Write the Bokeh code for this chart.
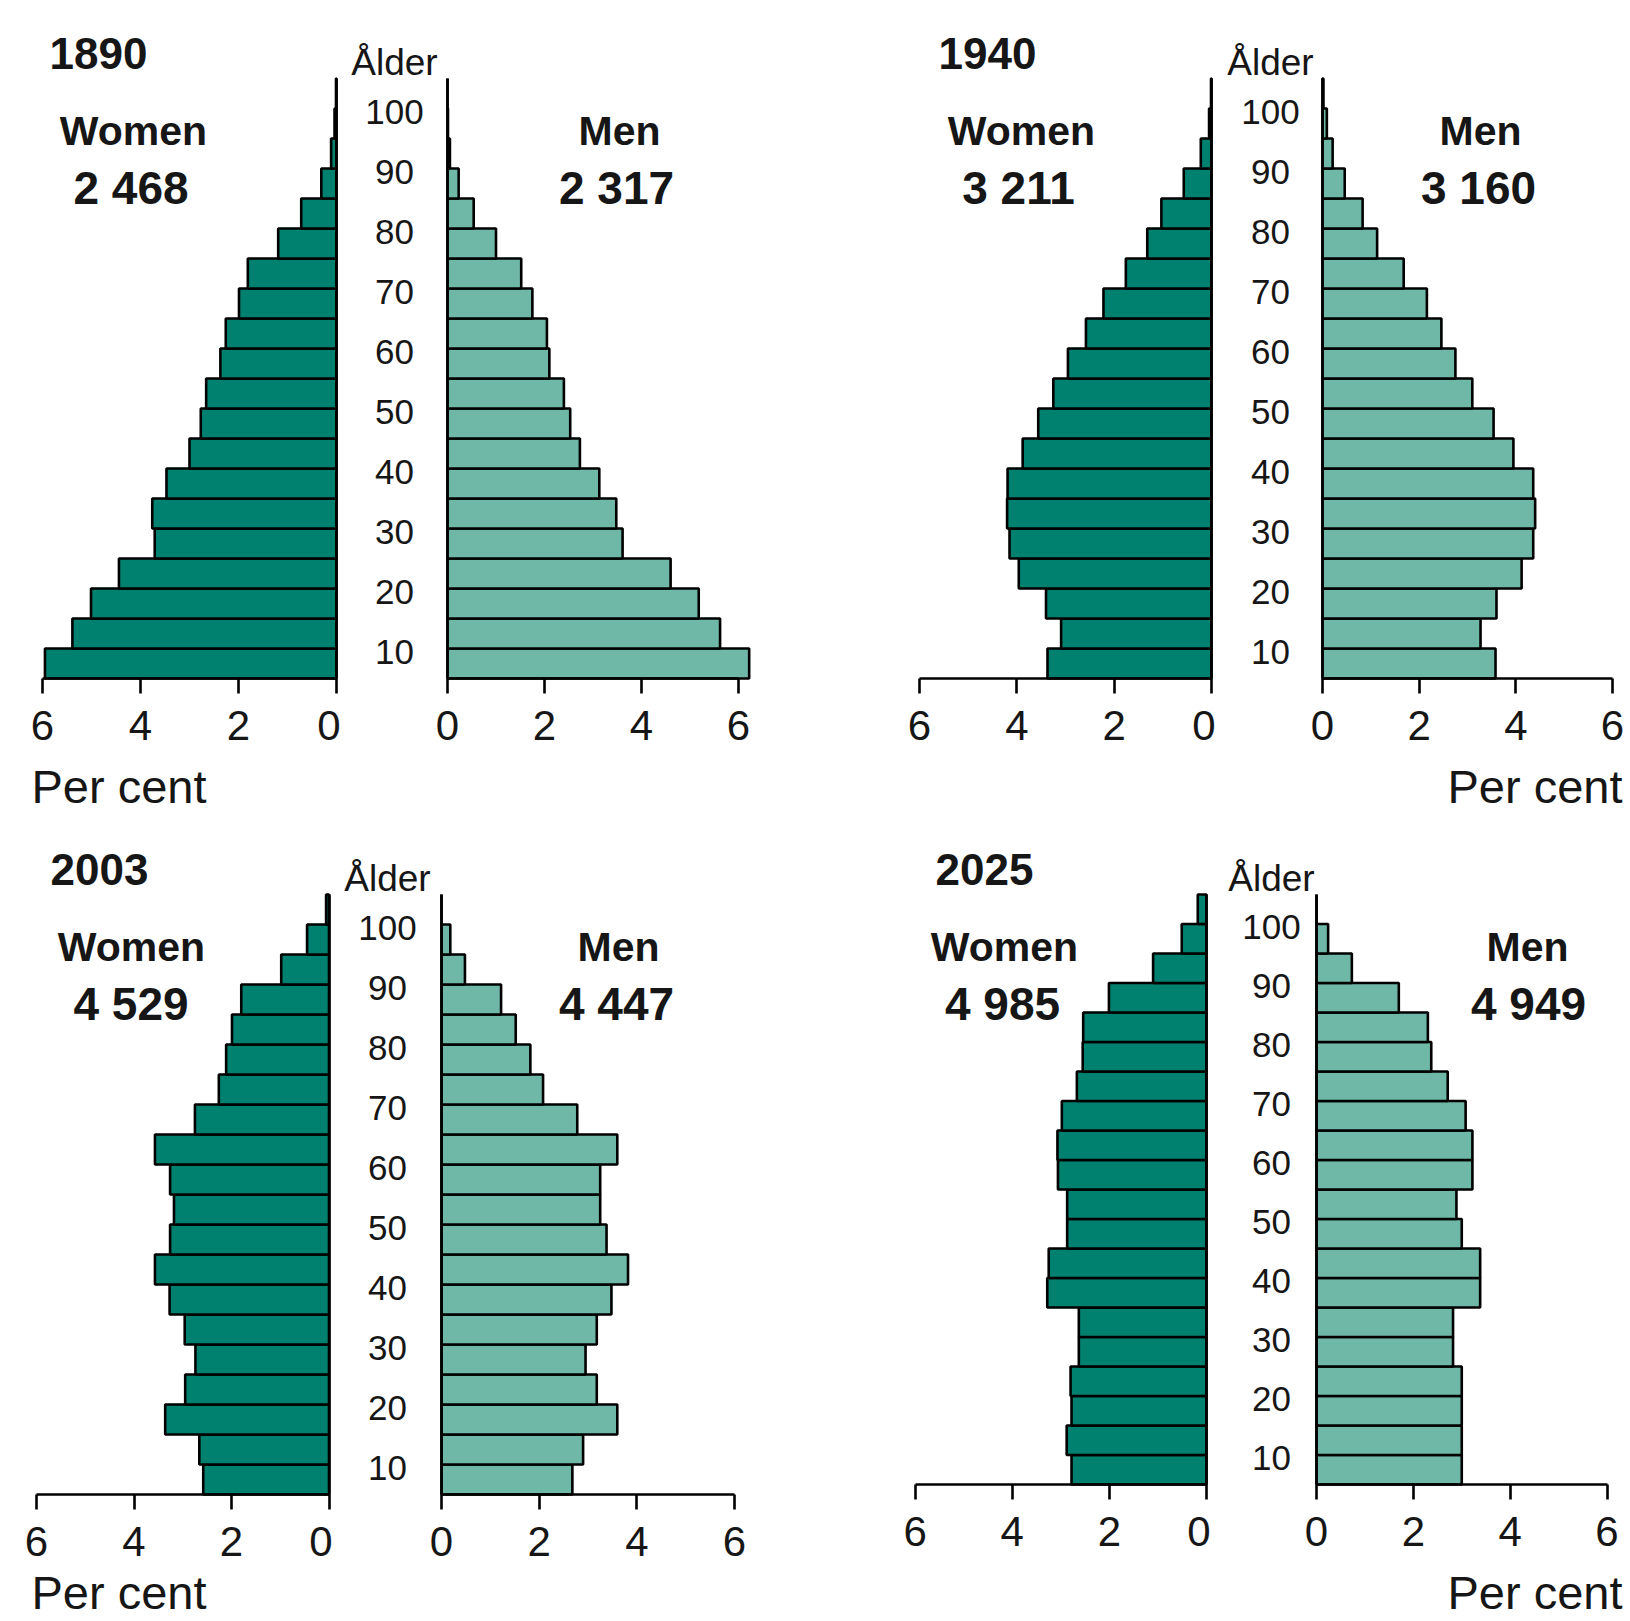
from bokeh.plotting import figure
from bokeh.models import (Range1d, FixedTicker, LinearAxis, Label, LabelSet,
                          ColumnDataSource)
from bokeh.layouts import row, column
from bokeh.embed import file_html
from bokeh.resources import INLINE
from bokeh.core.properties import value

# ---------------- data ----------------
age_group_start = [5, 10, 15, 20, 25, 30, 35, 40, 45, 50,
                   55, 60, 65, 70, 75, 80, 85, 90, 95, 100]
age_ticks = [10, 20, 30, 40, 50, 60, 70, 80, 90, 100]
age_tick_labels = ["10", "20", "30", "40", "50", "60", "70", "80", "90", "100"]
percent_ticks = [0, 2, 4, 6]

years = ["1890", "1940", "2003", "2025"]
women_totals = ["2 468", "3 211", "4 529", "4 985"]
men_totals = ["2 317", "3 160", "4 447", "4 949"]

women_1890 = [5.95, 5.39, 5.01, 4.44, 3.71, 3.76, 3.47, 3.00, 2.77, 2.66,
              2.37, 2.26, 1.99, 1.81, 1.19, 0.72, 0.31, 0.11, 0.04, 0.01]
men_1890 = [6.22, 5.62, 5.18, 4.60, 3.61, 3.48, 3.13, 2.73, 2.53, 2.40,
            2.10, 2.05, 1.75, 1.52, 1.00, 0.54, 0.23, 0.05, 0.01, 0.00]

women_1940 = [3.37, 3.09, 3.40, 3.96, 4.15, 4.20, 4.19, 3.88, 3.56, 3.25,
              2.95, 2.58, 2.22, 1.76, 1.32, 1.03, 0.57, 0.22, 0.05, 0.01]
men_1940 = [3.58, 3.27, 3.60, 4.12, 4.36, 4.40, 4.36, 3.95, 3.54, 3.10,
            2.75, 2.46, 2.16, 1.68, 1.13, 0.83, 0.46, 0.21, 0.09, 0.02]

women_2003 = [2.58, 2.66, 3.36, 2.95, 2.74, 2.96, 3.27, 3.57, 3.26, 3.18,
              3.26, 3.57, 2.75, 2.26, 2.11, 1.99, 1.80, 0.98, 0.45, 0.06]
men_2003 = [2.68, 2.90, 3.60, 3.18, 2.95, 3.18, 3.48, 3.82, 3.38, 3.25,
            3.25, 3.60, 2.78, 2.08, 1.82, 1.52, 1.22, 0.48, 0.18, 0.00]

women_2025 = [2.78, 2.88, 2.78, 2.80, 2.63, 2.63, 3.28, 3.25, 2.87, 2.87,
              3.06, 3.07, 2.98, 2.67, 2.55, 2.54, 2.01, 1.10, 0.51, 0.18]
men_2025 = [3.00, 3.00, 3.00, 3.00, 2.82, 2.82, 3.38, 3.38, 3.00, 2.89,
            3.22, 3.22, 3.08, 2.71, 2.37, 2.30, 1.70, 0.73, 0.24, 0.00]

women_series = [women_1890, women_1940, women_2003, women_2025]
men_series = [men_1890, men_1940, men_2003, men_2025]

# ---------------- style ----------------
WOMEN_COLOR = "#00806F"
MEN_COLOR = "#6FB8A8"
INK = "#161616"
SANS = "Liberation Sans, Arial, sans-serif"
LW = 2.6

# page-pixel layout of each panel
# wx0/mx0: pixel of the 0 % line, ws/ms: pixels per percent,
# b: pixel of the bottom edge (age 5), k: pixels per year, T: top edge (age 105)
GEOM = [
    dict(wx0=336, ws=49.0, mx0=447, ms=48.5, b=678, k=6.0, T=78,
         wfig=(0, 340), mfig=(340, 770), rows=(0, 835),
         year_x=49, women_x=133, wtot_x=130.5, men_x=619, mtot_x=616, age_x=394,
         pc=(31, 786, "left")),
    dict(wx0=1211, ws=48.67, mx0=1322, ms=48.33, b=678, k=6.0, T=78,
         wfig=(770, 1215), mfig=(1215, 1628), rows=(0, 835),
         year_x=938, women_x=1021, wtot_x=1018, men_x=1480, mtot_x=1478, age_x=1270,
         pc=(1622, 786, "right")),
    dict(wx0=328.5, ws=48.75, mx0=441, ms=48.83, b=1494, k=6.0, T=894,
         wfig=(0, 332), mfig=(332, 770), rows=(835, 1619),
         year_x=50, women_x=131, wtot_x=130.5, men_x=618, mtot_x=616, age_x=387,
         pc=(31, 1592, "left")),
    dict(wx0=1206, ws=48.55, mx0=1316, ms=48.42, b=1484, k=5.9, T=894,
         wfig=(770, 1210), mfig=(1210, 1628), rows=(835, 1619),
         year_x=935, women_x=1004, wtot_x=1002, men_x=1527, mtot_x=1528, age_x=1271,
         pc=(1622, 1592, "right")),
]


def make_half(side, vals, g):
    fx0, fx1 = g["wfig"] if side == "w" else g["mfig"]
    top, bot = g["rows"]
    b, k = g["b"], g["k"]
    if side == "w":
        x0, s = g["wx0"], g["ws"]
        xr = Range1d((x0 - fx0) / s, (x0 - fx1) / s)

        def dx(px):
            return (x0 - px) / s
    else:
        x0, s = g["mx0"], g["ms"]
        xr = Range1d((fx0 - x0) / s, (fx1 - x0) / s)

        def dx(px):
            return (px - x0) / s

    def dy(py):
        return 5 + (b - py) / k

    yr = Range1d(dy(bot), dy(top))
    p = figure(width=fx1 - fx0, height=bot - top, x_range=xr, y_range=yr,
               x_axis_location=None, y_axis_location=None,
               min_border=0, min_border_left=0, min_border_right=0,
               min_border_top=0, min_border_bottom=0,
               toolbar_location=None, output_backend="svg", title=None)
    p.outline_line_color = None
    p.xgrid.visible = False
    p.ygrid.visible = False

    src = ColumnDataSource(dict(y=[a + 2.5 for a in age_group_start], v=vals))
    p.hbar(y="y", height=5, left=0, right="v", source=src,
           fill_color=WOMEN_COLOR if side == "w" else MEN_COLOR,
           line_color="black", line_width=LW)

    # vertical age axis line (age 5 .. 105) at 0 %
    yax = LinearAxis(fixed_location=0, bounds=(5, 105), ticker=FixedTicker(ticks=[]),
                     axis_line_width=LW, axis_line_color="black",
                     major_tick_out=0, major_tick_in=0, minor_tick_out=0, minor_tick_in=0)
    p.add_layout(yax, "left")

    # percent axis at the bottom of the pyramid
    xax = LinearAxis(fixed_location=5, bounds=(0, 6), ticker=FixedTicker(ticks=percent_ticks),
                     axis_line_width=LW, axis_line_color="black",
                     major_tick_line_width=LW, major_tick_line_color="black",
                     major_tick_out=15, major_tick_in=0, minor_tick_out=0, minor_tick_in=0,
                     major_label_standoff=17, major_label_text_font=SANS,
                     major_label_text_font_size="42px", major_label_text_color=INK)
    p.add_layout(xax, "below")

    def lab(px, py, text, size, style="normal", align="center"):
        p.add_layout(Label(x=dx(px), y=dy(py), text=text, text_font=SANS,
                           text_font_size=size, text_font_style=style, text_color=INK,
                           text_align=align, text_baseline="middle"))
    return p, dx, dy, lab


rows = [[], []]
for i, g in enumerate(GEOM):
    T = g["T"]
    pw, dxw, dyw, labw = make_half("w", women_series[i], g)
    pm, dxm, dym, labm = make_half("m", men_series[i], g)

    labw(g["year_x"], T - 25, years[i], "44px", "bold", "left")
    labw(g["women_x"], T + 52, "Women", "41px", "bold")
    labw(g["wtot_x"], T + 109.5, women_totals[i], "46px", "bold")
    labm(g["men_x"], T + 52, "Men", "41px", "bold")
    labm(g["mtot_x"], T + 109.5, men_totals[i], "46px", "bold")
    pcx, pcy, pca = g["pc"]
    if pca == "left":
        labw(pcx, pcy, "Per cent", "47px", "normal", "left")
    else:
        labm(pcx, pcy, "Per cent", "47px", "normal", "right")

    labm(g["age_x"], T - 16, "Ålder", "37px")
    age_src = ColumnDataSource(dict(x=[dxm(g["age_x"])] * len(age_ticks), y=age_ticks,
                                    t=age_tick_labels))
    pm.add_layout(LabelSet(x="x", y="y", text="t", source=age_src, y_offset=-3,
                           text_font=value(SANS), text_font_size=value("35px"),
                           text_color=INK, text_align="center", text_baseline="middle"))
    rows[i // 2].extend([pw, pm])

layout = column(row(*rows[0]), row(*rows[1]))
open("out.html", "w").write(file_html(layout, INLINE, "Population pyramids"))
